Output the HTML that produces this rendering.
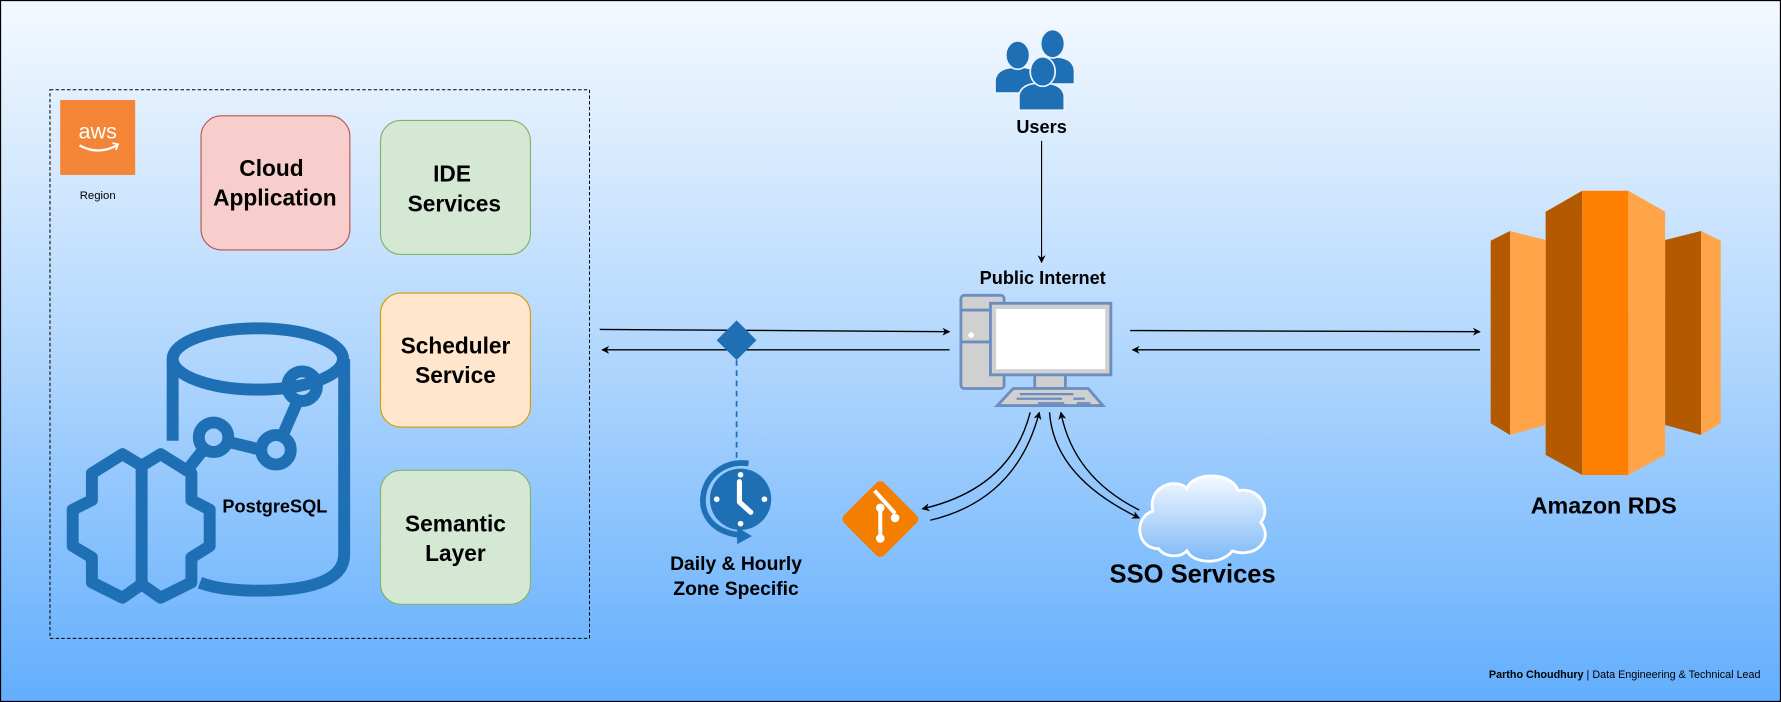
<!DOCTYPE html>
<html><head><meta charset="utf-8">
<style>
html,body{margin:0;padding:0;width:1781px;height:702px;overflow:hidden;background:#fff}
svg{display:block}
text{font-family:"Liberation Sans",Arial,sans-serif}
</style></head>
<body>
<svg width="1781" height="702" viewBox="0 0 1568 618" preserveAspectRatio="none" xmlns="http://www.w3.org/2000/svg">
<defs>
<linearGradient id="bg" x1="0" y1="0" x2="0" y2="1">
<stop offset="0" stop-color="#f4f9ff"/>
<stop offset="0.5" stop-color="#b2d7fd"/>
<stop offset="1" stop-color="#63aefd"/>
</linearGradient>
<linearGradient id="cl" x1="0" y1="0" x2="0" y2="1">
<stop offset="0" stop-color="#f4f9ff"/>
<stop offset="1" stop-color="#7db8f6"/>
</linearGradient>
<marker id="ar" viewBox="0 0 10 10" refX="9" refY="5" markerWidth="7" markerHeight="7" orient="auto" markerUnits="userSpaceOnUse">
<path d="M0,0 L10,5 L0,10 L3,5 Z" fill="#000"/>
</marker>
</defs>
<rect x="0" y="0" width="1568" height="618" fill="url(#bg)"/>
<rect x="0.5" y="0.5" width="1567" height="617" fill="none" stroke="#000" stroke-width="1"/>

<!-- region -->
<rect x="44" y="79" width="475" height="483" fill="none" stroke="#000" stroke-width="0.9" stroke-dasharray="3,2"/>
<rect x="53" y="88" width="66" height="66" fill="#f58536"/>
<text x="86" y="122" font-size="19" fill="#fff" text-anchor="middle">aws</text>
<path d="M70 128 Q86 137 103 128" fill="none" stroke="#fff" stroke-width="2"/>
<path d="M99 126 L104 127 L102 132" fill="none" stroke="#fff" stroke-width="1.5"/>
<text x="86" y="175" font-size="10" fill="#000" text-anchor="middle">Region</text>

<rect x="177" y="102" width="131" height="118" rx="18" fill="#f8cecc" stroke="#b85450"/>
<text x="239" y="155" font-size="20" font-weight="bold" text-anchor="middle">Cloud</text>
<text x="242" y="181" font-size="20" font-weight="bold" text-anchor="middle">Application</text>
<rect x="335" y="106" width="132" height="118" rx="18" fill="#d5e8d4" stroke="#82b366"/>
<text x="398" y="160" font-size="20" font-weight="bold" text-anchor="middle">IDE</text>
<text x="400" y="186" font-size="20" font-weight="bold" text-anchor="middle">Services</text>
<rect x="335" y="258" width="132" height="118" rx="18" fill="#ffe6cc" stroke="#d79b00"/>
<text x="401" y="311" font-size="20" font-weight="bold" text-anchor="middle">Scheduler</text>
<text x="401" y="337" font-size="20" font-weight="bold" text-anchor="middle">Service</text>
<rect x="335" y="414" width="132" height="118" rx="18" fill="#d5e8d4" stroke="#82b366"/>
<text x="401" y="468" font-size="20" font-weight="bold" text-anchor="middle">Semantic</text>
<text x="401" y="494" font-size="20" font-weight="bold" text-anchor="middle">Layer</text>

<!-- postgres icon -->
<g fill="none" stroke="#1f6fb5" stroke-width="10.5">
<ellipse cx="227" cy="316" rx="75" ry="27"/>
<path d="M152 316 V388"/>
<path d="M303 316 V488 Q303 520 227 520 Q195 520 176 513"/>
<circle cx="266" cy="340" r="13"/>
<circle cx="188" cy="385" r="13"/>
<circle cx="243" cy="396" r="13"/>
<path d="M262 353 L249 383 M201 389 L230 396 M179 396 L163 416"/>
<path stroke-linejoin="round" d="M80.9 416.7 L107.8 399.8 L124.7 410 L141.5 399.8 L168.5 416.7 L168.5 440.3 L184.6 448.7 L184.6 480.7 L168.5 490.8 L168.5 512.7 L141.5 526.2 L124.7 514.4 L107.8 526.2 L80.9 512.7 L80.9 490.8 L64 480.7 L64 448.7 L80.9 440.3 Z"/>
<path d="M124.7 410 V514"/>
</g>
<text x="242" y="451" font-size="16" font-weight="bold" text-anchor="middle">PostgreSQL</text>

<!-- users -->
<g fill="#1f6fb5" stroke="#eaf4ff" stroke-width="1.5">
<path d="M908 74 L908 62 Q910 50 927 50 Q945 50 946 62 L946 74 Z"/>
<ellipse cx="926.7" cy="38.5" rx="10.5" ry="12.5"/>
<path d="M876 82 L876 70 Q878 59 896 59 Q914 59 916 70 L916 82 Z"/>
<ellipse cx="896" cy="48.5" rx="10.5" ry="12.5"/>
<path d="M897 97 L897 84 Q899 73 917 73 Q935 73 937 84 L937 97 Z"/>
<ellipse cx="918" cy="63" rx="11" ry="13"/>
</g>
<text x="917" y="117" font-size="16" font-weight="bold" text-anchor="middle">Users</text>
<line x1="917" y1="124" x2="917" y2="231" stroke="#000" marker-end="url(#ar)"/>
<text x="918" y="250" font-size="16" font-weight="bold" text-anchor="middle">Public Internet</text>

<!-- computer -->
<g stroke="#6c8ebf" stroke-width="2.5" fill="#d0d0d0">
<rect x="846" y="260" width="38" height="82" rx="3"/>
<line x1="846" y1="273" x2="884" y2="273"/>
<line x1="846" y1="301" x2="884" y2="301"/>
<rect x="911" y="329" width="27" height="13"/>
<rect x="872" y="267" width="106" height="63" fill="#d0d0d0"/>
<rect x="877" y="272" width="96" height="53" fill="#fff" stroke="none"/>
<path d="M892 342 L958 342 L971 357 L878 357 Z"/>
</g>
<circle cx="855" cy="295" r="2.5" fill="#fff"/>
<g stroke="#6c8ebf" stroke-width="2"><line x1="898" y1="347" x2="945" y2="347"/><line x1="895" y1="351" x2="935" y2="351"/><line x1="914" y1="355" x2="937" y2="355"/><line x1="945" y1="351" x2="955" y2="351"/><line x1="948" y1="355" x2="960" y2="355"/></g>

<!-- arrows -->
<g stroke="#000" stroke-width="1.2" fill="none">
<line x1="528" y1="290" x2="836" y2="292" marker-end="url(#ar)"/>
<line x1="836" y1="308" x2="530" y2="308" marker-end="url(#ar)"/>
<line x1="995" y1="291" x2="1303" y2="292" marker-end="url(#ar)"/>
<line x1="1303" y1="308" x2="997" y2="308" marker-end="url(#ar)"/>
<path d="M907 363 Q890 430 812 448" marker-end="url(#ar)"/>
<path d="M819 458 Q895 440 915 363" marker-end="url(#ar)"/>
<path d="M924 363 Q928 420 1003 456" marker-end="url(#ar)"/>
<path d="M1003 449 Q945 420 934 363" marker-end="url(#ar)"/>
</g>

<!-- diamond + clock -->
<path d="M648.5 282 L666 299.5 L648.5 317 L631 299.5 Z" fill="#1f6fb5"/>
<line x1="648.5" y1="317" x2="648.5" y2="406" stroke="#1f6fb5" stroke-width="1.5" stroke-dasharray="5,4"/>
<path d="M659 408 C615 402 600 465 651 471" fill="none" stroke="#1f6fb5" stroke-width="5"/>
<path d="M649 464 L662 472 L649 479 Z" fill="#1f6fb5"/>
<circle cx="652" cy="439.5" r="27" fill="#1f6fb5"/>
<g fill="#fff"><circle cx="652" cy="418" r="2.5"/><circle cx="652" cy="461" r="2.5"/><circle cx="631" cy="439.5" r="2.5"/><circle cx="673" cy="439.5" r="2.5"/></g>
<path d="M651 424 V442 L661 451" fill="none" stroke="#fff" stroke-width="4.5" stroke-linecap="round" stroke-linejoin="round"/>
<text x="648" y="502" font-size="17" font-weight="bold" text-anchor="middle">Daily &amp; Hourly</text>
<text x="648" y="524" font-size="17" font-weight="bold" text-anchor="middle">Zone Specific</text>

<!-- git -->
<rect x="750" y="432" width="50" height="50" rx="5" transform="rotate(45 775 457)" fill="#f47e00"/>
<g stroke="#fff" stroke-width="3.5" fill="none"><path d="M770 432 L788 452 M775 447 V475"/></g>
<g fill="#fff"><circle cx="775" cy="447" r="3.8"/><circle cx="775" cy="474" r="3.8"/><circle cx="788" cy="456" r="3.8"/></g>

<!-- cloud -->
<path d="M1020 483 C1000 483 998 455 1015 450 C1010 428 1035 420 1045 430 C1050 415 1085 415 1090 432 C1108 428 1120 448 1110 460 C1122 475 1105 492 1085 485 C1075 498 1050 496 1045 485 C1038 492 1025 490 1020 483 Z" fill="url(#cl)" stroke="#fff" stroke-width="2.5"/>
<text x="1050" y="513" font-size="22.5" font-weight="bold" text-anchor="middle">SSO Services</text>

<!-- RDS -->
<polygon points="1360.8,186.4 1393,167.9 1393,418.2 1360.8,400.5" fill="#b35900"/>
<polygon points="1393,167.9 1433.6,167.9 1433.6,418.2 1393,418.2" fill="#ff8000"/>
<polygon points="1433.6,167.9 1466,186.4 1466,400.5 1433.6,418.2" fill="#ffa449"/>
<polygon points="1312.4,211.9 1329.4,203.4 1329.4,382.9 1312.4,372.6" fill="#b35900"/>
<polygon points="1329.4,203.4 1360.8,211.3 1360.8,374.1 1329.4,382.9" fill="#ffa449"/>
<polygon points="1466,211.3 1497.6,203.4 1497.6,382.9 1466,374.1" fill="#b35900"/>
<polygon points="1497.6,203.4 1514.9,211.9 1514.9,372.6 1497.6,382.9" fill="#ffa449"/>
<text x="1412" y="452" font-size="20.5" font-weight="bold" text-anchor="middle">Amazon RDS</text>

<text x="1550" y="597" font-size="9.5" text-anchor="end"><tspan font-weight="bold">Partho Choudhury</tspan> | Data Engineering &amp; Technical Lead</text>
</svg>
</body></html>
